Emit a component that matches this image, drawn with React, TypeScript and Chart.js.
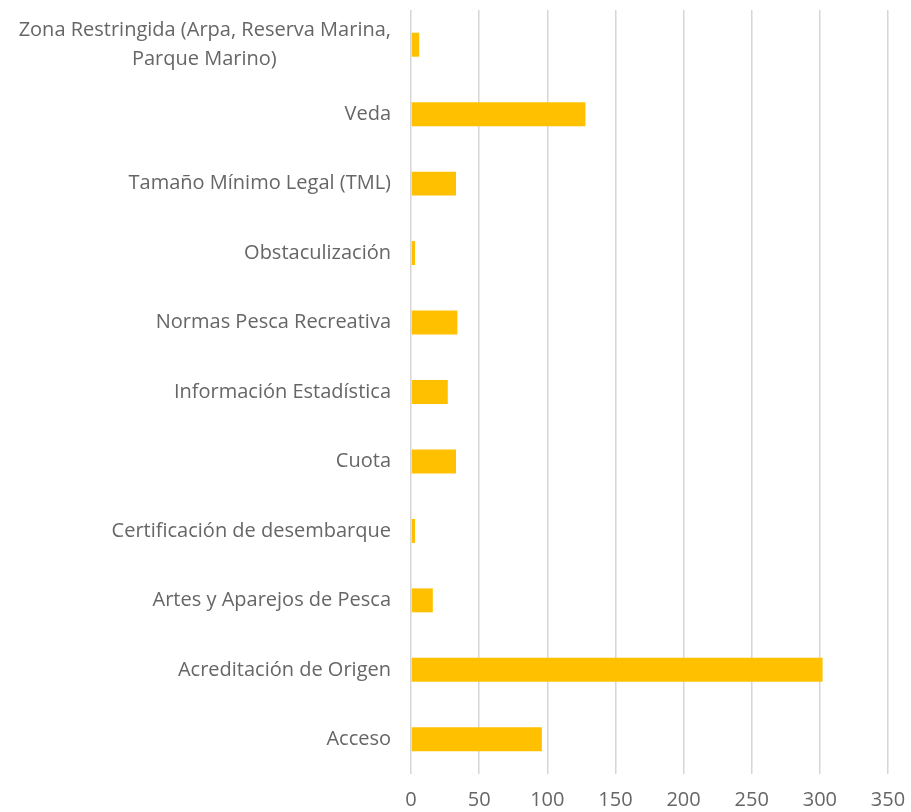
import React, { useEffect, useRef } from "react";
import { Chart, registerables } from "chart.js";

Chart.register(...registerables);

const categories: (string | string[])[] = [
  ["Zona Restringida (Arpa, Reserva Marina,", "Parque Marino)" + "\u00a0".repeat(22)],
  "Veda",
  "Tamaño Mínimo Legal (TML)",
  "Obstaculización",
  "Normas Pesca Recreativa",
  "Información Estadística",
  "Cuota",
  "Certificación de desembarque",
  "Artes y Aparejos de Pesca",
  "Acreditación de Origen",
  "Acceso",
];
const values = [6, 128, 33, 3, 34, 27, 33, 3, 16, 302, 96];
const xMin = 0;
const xMax = 350;
const xStep = 50;

const FONT = "'Open Sans', 'Liberation Sans', sans-serif";
const TEXT = "#666666";

export default function App() {
  const ref = useRef<HTMLCanvasElement | null>(null);
  useEffect(() => {
    if (!ref.current) return;
    const chart = new Chart(ref.current, {
      type: "bar",
      data: {
        labels: categories,
        datasets: [
          {
            data: values,
            backgroundColor: "#FFC000",
            borderWidth: 0,
            categoryPercentage: 1,
            barPercentage: 0.345,
          },
        ],
      },
      options: {
        indexAxis: "y",
        animation: false,
        responsive: true,
        maintainAspectRatio: false,
        layout: { padding: { top: 10, right: 23, left: 0, bottom: 0 } },
        plugins: { legend: { display: false }, tooltip: { enabled: false } },
        scales: {
          x: {
            min: xMin,
            max: xMax,
            ticks: {
              stepSize: xStep,
              color: TEXT,
              font: { family: FONT, size: 20 },
              padding: 14,
            },
            grid: { color: "#d6d6d6", lineWidth: 1.5, drawTicks: false },
            border: { display: false },
            afterFit: (axis: any) => {
              axis.height = 38;
              axis.paddingLeft = 0;
              axis.paddingRight = 0;
            },
          },
          y: {
            ticks: {
              color: TEXT,
              font: { family: FONT, size: 20, lineHeight: 1.45 },
              padding: 20,
            },
            grid: { display: false, drawTicks: false },
            border: { display: false },
            afterFit: (axis: any) => {
              axis.width = 411;
              axis.paddingTop = 0;
              axis.paddingBottom = 0;
            },
          },
        },
      },
    });
    return () => chart.destroy();
  }, []);
  return (
    <div style={{ position: "fixed", left: 0, top: 0, width: 911, height: 812, background: "#fff" }}>
      <canvas ref={ref} />
    </div>
  );
}
